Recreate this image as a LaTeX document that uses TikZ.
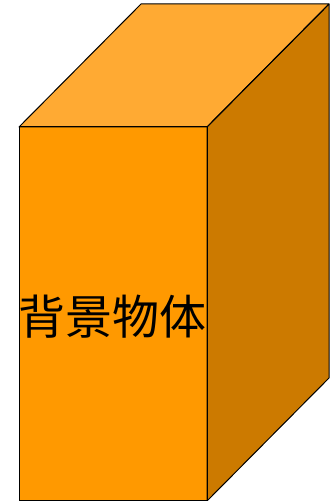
\documentclass[tikz,border=0pt]{standalone}
\usepackage{fontspec}
\newfontfamily\cjk{Noto Sans CJK SC}
\definecolor{frontc}{HTML}{FF9900}
\definecolor{topc}{HTML}{FFAA33}
\definecolor{sidec}{HTML}{CC7A00}
\begin{document}
\begin{tikzpicture}[x=1pt,y=1pt,
  face/.style={draw=black,line width=1pt,line join=round}]
\useasboundingbox (0,0) rectangle (332,501);
\coordinate (fbl) at (19,0);
\coordinate (fbr) at (207,0);
\coordinate (ftl) at (19,374);
\coordinate (ftr) at (207,374);
\coordinate (btl) at (141,497);
\coordinate (btr) at (329,497);
\coordinate (bbr) at (329,123);
\fill[topc] (ftl) -- (btl) -- (btr) -- (ftr) -- cycle;
\fill[sidec] (ftr) -- (btr) -- (bbr) -- (fbr) -- cycle;
\fill[frontc] (fbl) rectangle (ftr);
\draw[face] (ftl) -- (btl) -- (btr) -- (ftr) -- cycle;
\draw[face] (ftr) -- (btr) -- (bbr) -- (fbr) -- cycle;
\draw[face] (fbl) rectangle (ftr);
\node[font=\cjk\fontsize{47}{52}\selectfont, inner sep=0pt] (label) at (113,184) {背景物体};
\end{tikzpicture}
\end{document}
